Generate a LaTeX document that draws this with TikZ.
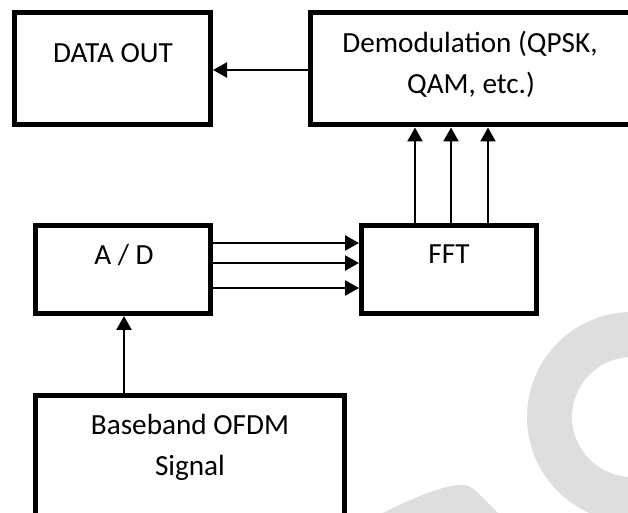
\documentclass[tikz,border=0pt]{standalone}
\usepackage{fontspec}
\setmainfont{Carlito}
\usetikzlibrary{arrows.meta}
\definecolor{wm}{RGB}{222,222,222}
\begin{document}
\begin{tikzpicture}[x=0.5pt,y=-0.5pt,
  box/.style={draw, line width=2.5pt, inner sep=0pt},
  lbl/.style={anchor=base, inner sep=0pt, font=\fontsize{14.6}{17}\selectfont},
  arr/.style={line width=1.2pt, -{Triangle[length=7pt,width=7.5pt]}}]
\clip (0,0) rectangle (628,513);
% watermark
\fill[wm, even odd rule] (632,417) circle[radius=105] (632,417) circle[radius=60];
\fill[wm] (378,520) -- (383,513) .. controls (415,497) and (440,487) .. (458,485)
  .. controls (466,484) and (472,487) .. (477,492) -- (505,520) -- cycle;
% boxes
\node[box, minimum width=98.25pt, minimum height=56pt] (dataout) at (112.25,68.5) {};
\node[box, minimum width=175pt, minimum height=56.25pt] (demod) at (485,68.75) {};
\node[box, minimum width=87.5pt, minimum height=44pt] (ad) at (123,269.5) {};
\node[box, minimum width=87.5pt, minimum height=44pt] (fft) at (449,269.5) {};
\node[box, minimum width=154.5pt, minimum height=67.25pt] (base) at (190,462.75) {};
% labels
\node[lbl] (t1) at (113,63) {DATA OUT};
\node[lbl] (t2) at (470,53) {Demodulation (QPSK,};
\node[lbl] (t3) at (471,94) {QAM, etc.)};
\node[lbl] (t4) at (124,265) {A / D};
\node[lbl] (t5) at (449,264) {FFT};
\node[lbl] (t6) at (190,435) {Baseband OFDM};
\node[lbl] (t7) at (190,476) {Signal};
% helper coordinates
\coordinate (h1) at (0,70);
\coordinate (h2) at (0,243);
\coordinate (h3) at (0,263);
\coordinate (h4) at (0,288);
\coordinate (v1) at (415,0);
\coordinate (v2) at (451,0);
\coordinate (v3) at (488,0);
\coordinate (v4) at (124,0);
% connectors
\draw[arr] (demod.west |- h1) -- (dataout.east |- h1);
\draw[arr] (ad.east |- h2) -- (fft.west |- h2);
\draw[arr] (ad.east |- h3) -- (fft.west |- h3);
\draw[arr] (ad.east |- h4) -- (fft.west |- h4);
\draw[arr] (fft.north -| v1) -- (demod.south -| v1);
\draw[arr] (fft.north -| v2) -- (demod.south -| v2);
\draw[arr] (fft.north -| v3) -- (demod.south -| v3);
\draw[arr] (base.north -| v4) -- (ad.south -| v4);
\end{tikzpicture}
\end{document}
